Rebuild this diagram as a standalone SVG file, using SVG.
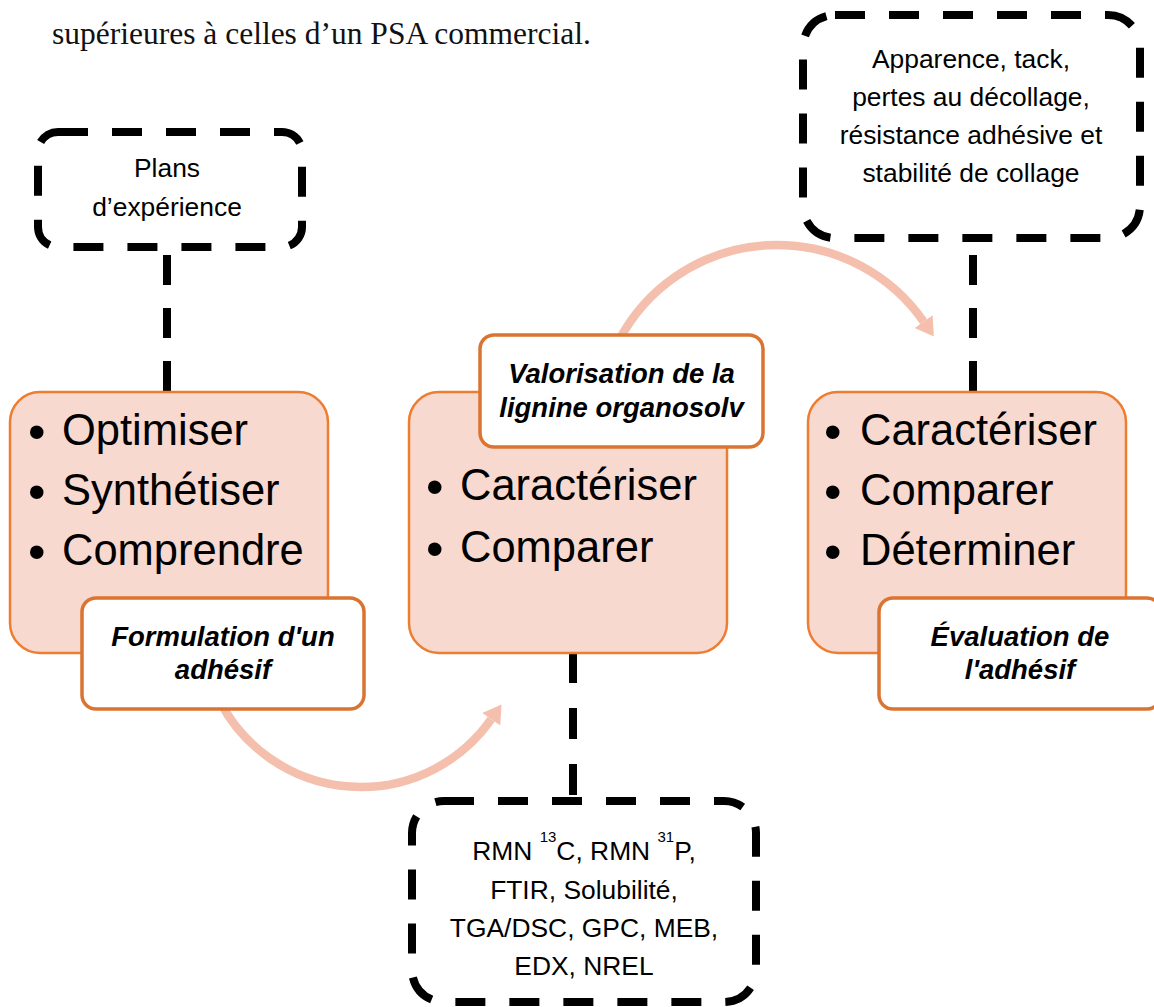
<svg xmlns="http://www.w3.org/2000/svg" width="1154" height="1007" viewBox="0 0 1154 1007">
  <style>
    .sans { font-family: "Liberation Sans", Arial, sans-serif; fill: #000; }
    .note { font-size: 26.4px; text-anchor: middle; }
    .item { font-size: 43.5px; }
    .bullet { font-size: 50px; }
    .title { font-size: 27.5px; font-weight: bold; font-style: italic; text-anchor: middle; }
    .dash-box { fill: #fff; stroke: #000; stroke-width: 8; stroke-dasharray: 30 24; }
    .dash-link { fill: none; stroke: #000; stroke-width: 8; }
    .step { fill: #F8D9CF; stroke: #ED7D31; stroke-width: 2.5; }
    .label { fill: #fff; stroke: #DA7432; stroke-width: 3.5; }
    .flow { fill: none; stroke: #F4BFAD; stroke-width: 8.5; marker-end: url(#head); }
  </style>
  <defs>
    <marker id="head" markerUnits="userSpaceOnUse" markerWidth="24" markerHeight="26" refX="0" refY="12" orient="auto" viewBox="0 0 24 26">
      <path d="M0,1 L18,12 L0,23 z" fill="#F4BFAD"/>
    </marker>
  </defs>

  <rect width="1154" height="1007" fill="#fff"/>

  <!-- running text line above the figure -->
  <text x="52" y="44" font-family="'Liberation Serif', 'Times New Roman', serif" font-size="31.5" fill="#111">supérieures à celles d’un PSA commercial.</text>

  <!-- connectors -->
  <g id="connectors">
    <path class="dash-link" d="M167,255 V392" stroke-dasharray="30 23"/>
    <path class="dash-link" d="M973,255 V392" stroke-dasharray="30 23"/>
    <path class="dash-link" d="M573,652 V801" stroke-dasharray="31 25"/>
    <!-- formulation -> valorisation -->
    <path class="flow" d="M219.3,700.2 A159,159 0 0 0 491.2,719.2"/>
    <!-- valorisation -> evaluation -->
    <path class="flow" d="M619.4,339.7 A178.5,178.5 0 0 1 923.6,321.6"/>
  </g>

  <!-- design of experiments -->
  <g id="plans">
    <rect class="dash-box" x="38" y="132" width="264" height="115" rx="20"/>
    <text class="sans note" x="167" y="177" font-size="26.5">Plans</text>
    <text class="sans note" x="167" y="216" font-size="26.5">d’expérience</text>
  </g>

  <!-- evaluation tests -->
  <g id="tests">
    <rect class="dash-box" x="803" y="15" width="337" height="223" rx="32"/>
    <text class="sans note" x="971" y="68">Apparence, tack,</text>
    <text class="sans note" x="971" y="106">pertes au décollage,</text>
    <text class="sans note" x="971" y="144">résistance adhésive et</text>
    <text class="sans note" x="971" y="182">stabilité de collage</text>
  </g>

  <!-- analytical techniques -->
  <g id="analyses">
    <rect class="dash-box" x="412" y="801" width="344" height="201" rx="32"/>
    <text class="sans note" x="584" y="860" font-size="24.5">RMN <tspan font-size="15" dy="-18">13</tspan><tspan dy="18">C, RMN </tspan><tspan font-size="15" dy="-18">31</tspan><tspan dy="18">P,</tspan></text>
    <text class="sans note" x="584" y="899" font-size="24.5">FTIR, Solubilité,</text>
    <text class="sans note" x="584" y="937" font-size="24.5">TGA/DSC, GPC, MEB,</text>
    <text class="sans note" x="584" y="975" font-size="24.5">EDX, NREL</text>
  </g>

  <!-- step 1 -->
  <g id="formulation">
    <rect class="step" x="10" y="392" width="318" height="261" rx="30"/>
    <text class="sans bullet" x="28" y="449">•</text>
    <text class="sans item" x="62" y="445">Optimiser</text>
    <text class="sans bullet" x="28" y="509">•</text>
    <text class="sans item" x="62" y="505">Synthétiser</text>
    <text class="sans bullet" x="28" y="569">•</text>
    <text class="sans item" x="62" y="565">Comprendre</text>
    <rect class="label" x="82" y="598" width="282" height="111" rx="14"/>
    <text class="sans title" x="223" y="646">Formulation d'un</text>
    <text class="sans title" x="223" y="679">adhésif</text>
  </g>

  <!-- step 2 -->
  <g id="valorisation">
    <rect class="step" x="409" y="392" width="318" height="261" rx="30"/>
    <text class="sans bullet" x="426" y="504">•</text>
    <text class="sans item" x="460" y="500">Caractériser</text>
    <text class="sans bullet" x="426" y="566">•</text>
    <text class="sans item" x="460" y="562">Comparer</text>
    <rect class="label" x="480" y="335" width="283" height="112" rx="14"/>
    <text class="sans title" x="621.5" y="383">Valorisation de la</text>
    <text class="sans title" x="621.5" y="417">lignine organosolv</text>
  </g>

  <!-- step 3 -->
  <g id="evaluation">
    <rect class="step" x="808" y="392" width="318" height="261" rx="30"/>
    <text class="sans bullet" x="824" y="449">•</text>
    <text class="sans item" x="860" y="445">Caractériser</text>
    <text class="sans bullet" x="824" y="509">•</text>
    <text class="sans item" x="860" y="505">Comparer</text>
    <text class="sans bullet" x="824" y="569">•</text>
    <text class="sans item" x="860" y="565">Déterminer</text>
    <rect class="label" x="879" y="598" width="282" height="111" rx="14"/>
    <text class="sans title" x="1020" y="646">Évaluation de</text>
    <text class="sans title" x="1020" y="679">l'adhésif</text>
  </g>
</svg>
